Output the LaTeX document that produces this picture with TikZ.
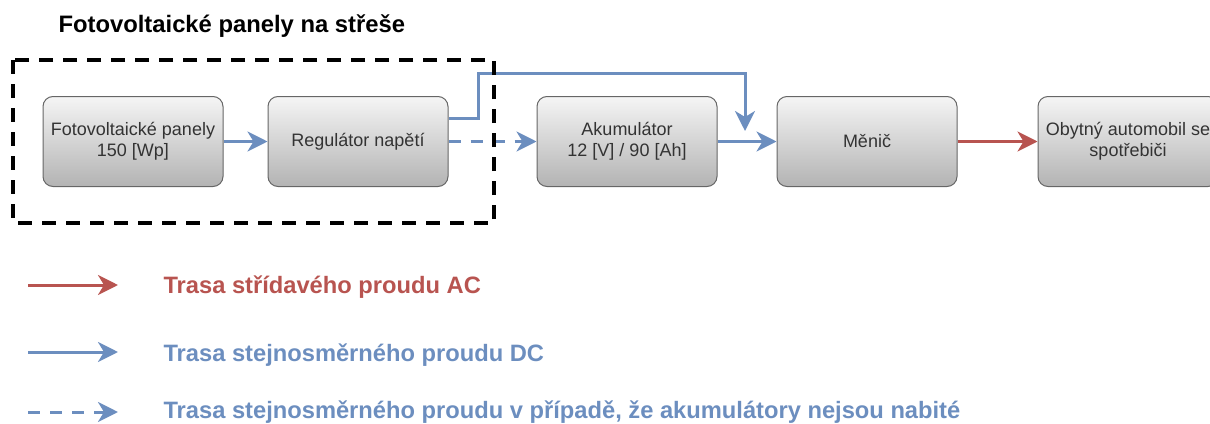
\documentclass[tikz,border=0pt]{standalone}
\usepackage{fontspec}
\setmainfont{Liberation Sans}
\usetikzlibrary{arrows.meta,positioning,calc}

\definecolor{dcblue}{HTML}{6C8EBF}
\definecolor{acred}{HTML}{B85450}
\definecolor{boxline}{HTML}{666666}
\definecolor{boxtext}{HTML}{333333}
\definecolor{boxtop}{HTML}{F5F5F5}
\definecolor{boxbottom}{HTML}{B3B3B3}

\tikzset{
  block/.style={draw=boxline, line width=1pt, rounded corners=10pt,
    top color=boxtop, bottom color=boxbottom, text=boxtext,
    minimum width=180pt, minimum height=90pt, align=center,
    font=\fontsize{18}{21}\selectfont},
  dc/.style={draw=dcblue, line width=3pt,
    -{Stealth[length=20pt,width=20pt,inset=6pt]}},
  dcdash/.style={dc, dash pattern=on 12pt off 10pt},
  ac/.style={dc, draw=acred},
  roof/.style={draw=black, line width=3.5pt, dash pattern=on 14pt off 10pt},
  legendtext/.style={anchor=base west, font=\bfseries\fontsize{23.7}{26}\selectfont}
}

\begin{document}
\begin{tikzpicture}[x=1pt,y=-1pt]
  \useasboundingbox (0,0) rectangle (1210,423);

  % Title
  \node[anchor=base west, font=\bfseries\fontsize{23.8}{28}\selectfont] (title) at (55,32) {Fotovoltaické panely na střeše};

  % Blocks
  \node[block] (pv)  at (133,141.5)  {Fotovoltaické panely\\150 [Wp]};
  \node[block] (reg) at (358,141.5)  {Regulátor napětí};
  \node[block] (aku) at (627,141.5)  {Akumulátor\\12 [V] / 90 [Ah]};
  \node[block] (men) at (867,141.5)  {Měnič};
  \node[block] (car) at (1128,141.5) {Obytný automobil se\\spotřebiči};

  % Connectors
  \coordinate (bend) at (478,73);
  \coordinate (drop) at (745,131);
  \draw[dc] (pv) -- (reg);
  \draw[dcdash] (reg) -- (aku);
  \draw[dc] (aku) -- (men);
  \draw[ac] (men) -- (car);
  \draw[dc] ([yshift=23pt]reg.east) -| (bend) -| (drop);

  % Roof frame
  \draw[roof] (13,60) rectangle (494,223);

  % Legend
  \coordinate (acA) at (28,285);  \coordinate (acB) at (118,285);
  \coordinate (dcA) at (28,352);  \coordinate (dcB) at (118,352);
  \coordinate (ndA) at (28,412);  \coordinate (ndB) at (118,412);
  \draw[ac] (acA) -- (acB);
  \draw[dc] (dcA) -- (dcB);
  \draw[dcdash] (ndA) -- (ndB);
  \node[legendtext, text=acred]  (acText) at (160,293.5) {Trasa střídavého proudu AC};
  \node[legendtext, text=dcblue] (dcText) at (160,361)   {Trasa stejnosměrného proudu DC};
  \node[legendtext, text=dcblue] (ndText) at (160,418.5) {Trasa stejnosměrného proudu v případě, že akumulátory nejsou nabité};
\end{tikzpicture}
\end{document}
